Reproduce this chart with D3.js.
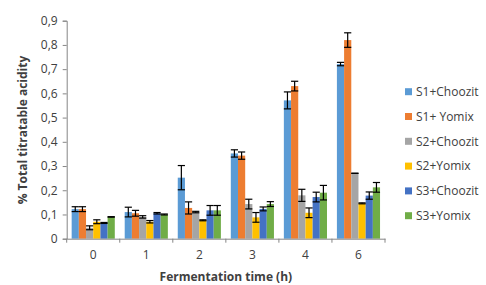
<!DOCTYPE html>
<html>
<head>
<meta charset="utf-8">
<script src="https://cdn.jsdelivr.net/npm/d3@7"></script>
<style>
  body { margin: 0; background: #fff; }
  text { font-family: "Open Sans", "Liberation Sans", sans-serif; fill: #404040; }
</style>
</head>
<body>
<div class="chart"></div>
<script>
const width = 486;
const height = 285;

const times = ["0", "1", "2", "3", "4", "6"];
const series = ["S1+Choozit", "S1+ Yomix", "S2+Choozit", "S2+Yomix", "S3+Choozit", "S3+Yomix"];
const colors = ["#5B9BD5", "#ED7D31", "#A5A5A5", "#FFC000", "#4472C4", "#70AD47"];

// mean values per series, one entry per fermentation time
const s1Choozit = [0.122, 0.110, 0.252, 0.352, 0.571, 0.721];
const s1Yomix   = [0.122, 0.105, 0.127, 0.343, 0.630, 0.820];
const s2Choozit = [0.045, 0.090, 0.110, 0.143, 0.179, 0.270];
const s2Yomix   = [0.070, 0.070, 0.076, 0.088, 0.107, 0.146];
const s3Choozit = [0.065, 0.105, 0.117, 0.123, 0.172, 0.178];
const s3Yomix   = [0.090, 0.100, 0.117, 0.143, 0.190, 0.212];

// error (+/-)
const s1ChoozitErr = [0.010, 0.020, 0.050, 0.015, 0.035, 0.007];
const s1YomixErr   = [0.010, 0.012, 0.025, 0.015, 0.020, 0.030];
const s2ChoozitErr = [0.008, 0.005, 0.003, 0.020, 0.025, 0.000];
const s2YomixErr   = [0.008, 0.005, 0.002, 0.020, 0.020, 0.002];
const s3ChoozitErr = [0.002, 0.003, 0.020, 0.008, 0.020, 0.015];
const s3YomixErr   = [0.001, 0.002, 0.020, 0.010, 0.030, 0.020];

const yTicks = [0, 0.1, 0.2, 0.3, 0.4, 0.5, 0.6, 0.7, 0.8, 0.9];

const values = [s1Choozit, s1Yomix, s2Choozit, s2Yomix, s3Choozit, s3Yomix];
const errors = [s1ChoozitErr, s1YomixErr, s2ChoozitErr, s2YomixErr, s3ChoozitErr, s3YomixErr];

const rows = [];
times.forEach((t, i) => {
  series.forEach((s, j) => {
    rows.push({ time: t, series: s, value: values[j][i], err: errors[j][i], color: colors[j] });
  });
});

const margin = { top: 20.7, left: 66.7, right: 101, bottom: 46.3 };

const svg = d3.select(".chart")
  .append("svg")
  .attr("width", width)
  .attr("height", height);

const x0 = d3.scaleBand()
  .domain(times)
  .range([margin.left, width - margin.right])
  .padding(0);

const x1 = d3.scaleBand()
  .domain(series)
  .range([0, x0.bandwidth()])
  .paddingInner(0)
  .paddingOuter(0.69);

const y = d3.scaleLinear()
  .domain([0, 0.9])
  .range([height - margin.bottom, margin.top]);

const fmt = d => d3.format(".1f")(d).replace(".", ",").replace(/^0,0$/, "0");

// y axis
const yAxis = svg.append("g")
  .attr("transform", `translate(${margin.left},0)`)
  .call(d3.axisLeft(y).tickValues(yTicks).tickSize(4).tickFormat(d => d === 0 ? "0" : fmt(d)));
yAxis.select(".domain").attr("stroke", "#868686");
yAxis.selectAll(".tick line").attr("stroke", "#868686");
yAxis.selectAll("text").attr("font-size", 12).attr("fill", "#404040").attr("x", -9);

// bars
const groups = svg.append("g")
  .selectAll("g")
  .data(times)
  .join("g")
  .attr("transform", d => `translate(${x0(d)},0)`);

groups.selectAll("rect")
  .data(t => rows.filter(r => r.time === t))
  .join("rect")
  .attr("x", d => x1(d.series))
  .attr("y", d => y(d.value))
  .attr("width", x1.bandwidth())
  .attr("height", d => y(0) - y(d.value))
  .attr("fill", d => d.color);

// error bars
const eb = groups.selectAll("g.err")
  .data(t => rows.filter(r => r.time === t))
  .join("g")
  .attr("class", "err")
  .attr("stroke", "#000")
  .attr("stroke-width", 1.2);

eb.append("line")
  .attr("x1", d => x1(d.series) + x1.bandwidth() / 2)
  .attr("x2", d => x1(d.series) + x1.bandwidth() / 2)
  .attr("y1", d => y(d.value + d.err))
  .attr("y2", d => y(d.value - d.err));
eb.append("line")
  .attr("x1", d => x1(d.series))
  .attr("x2", d => x1(d.series) + x1.bandwidth())
  .attr("y1", d => y(d.value + d.err))
  .attr("y2", d => y(d.value + d.err));
eb.append("line")
  .attr("x1", d => x1(d.series))
  .attr("x2", d => x1(d.series) + x1.bandwidth())
  .attr("y1", d => y(d.value - d.err))
  .attr("y2", d => y(d.value - d.err));

// x axis
const xAxis = svg.append("g")
  .attr("transform", `translate(0,${y(0)})`)
  .call(d3.axisBottom(x0).tickSize(0).tickPadding(12));
xAxis.select(".domain").attr("stroke", "#868686");
xAxis.selectAll("text").attr("font-size", 12).attr("fill", "#404040");

// category boundary ticks
svg.append("g")
  .selectAll("line")
  .data(times)
  .join("line")
  .attr("x1", d => x0(d) + x0.bandwidth())
  .attr("x2", d => x0(d) + x0.bandwidth())
  .attr("y1", y(0))
  .attr("y2", y(0) + 4)
  .attr("stroke", "#868686");
svg.append("line")
  .attr("x1", margin.left).attr("x2", margin.left)
  .attr("y1", y(0)).attr("y2", y(0) + 4)
  .attr("stroke", "#868686");

// axis titles
svg.append("text")
  .attr("x", (margin.left + width - margin.right) / 2)
  .attr("y", 281)
  .attr("text-anchor", "middle")
  .attr("font-size", 12)
  .attr("font-weight", "bold")
  .text("Fermentation time (h)");

svg.append("text")
  .attr("transform", `translate(27,130) rotate(-90)`)
  .attr("text-anchor", "middle")
  .attr("font-size", 12)
  .attr("font-weight", "bold")
  .text("% Total titratable acidity");

// legend
const legend = svg.append("g")
  .selectAll("g")
  .data(series)
  .join("g")
  .attr("transform", (d, i) => `translate(405,${91.7 + i * 24.8})`);

legend.append("rect")
  .attr("x", 0).attr("y", -3.5)
  .attr("width", 7).attr("height", 7)
  .attr("fill", (d, i) => colors[i]);

legend.append("text")
  .attr("x", 11)
  .attr("dy", "0.35em")
  .attr("font-size", 12)
  .text(d => d);
</script>
</body>
</html>
